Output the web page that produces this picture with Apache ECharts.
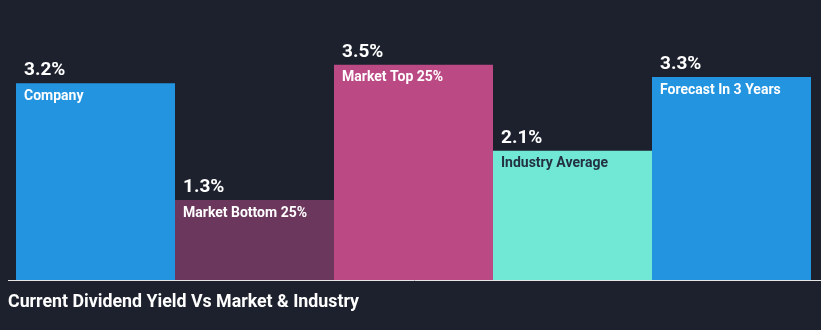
<!DOCTYPE html>
<html>
<head>
<meta charset="utf-8">
<script src="https://cdn.jsdelivr.net/npm/echarts@6/dist/echarts.min.js"></script>
<style>
  html, body { margin: 0; padding: 0; background: #1d212d; }
  #chart { width: 821px; height: 330px; }
</style>
</head>
<body>
<div id="chart"></div>
<script>
// Dividend yield comparison
const categories = ['Company', 'Market Bottom 25%', 'Market Top 25%', 'Industry Average', 'Forecast In 3 Years'];
const yieldValues = [3.2, 1.3, 3.5, 2.1, 3.3];
const chartTitle = 'Current Dividend Yield Vs Market & Industry';

const barColors = ['#2394df', '#6c375c', '#bb4a84', '#70e8d5', '#2394df'];
const nameColors = ['#ffffff', '#ffffff', '#ffffff', '#233240', '#ffffff'];

const chart = echarts.init(document.getElementById('chart'));

const seriesData = yieldValues.map((v, i) => ({
  value: v,
  itemStyle: { color: barColors[i] },
  label: {
    formatter: '{v|' + v.toFixed(1) + '%}\n{n|' + categories[i] + '}',
    rich: {
      v: { fontSize: 19, fontWeight: 'bold', color: '#ffffff', lineHeight: 28, fontFamily: 'Roboto' },
      n: { fontSize: 14, fontWeight: 'bold', color: nameColors[i], lineHeight: 24, fontFamily: 'Roboto' }
    }
  }
}));

chart.setOption({
  backgroundColor: '#1d212d',
  animation: false,
  grid: { left: 16, right: 10, top: 34, bottom: 50 },
  xAxis: {
    type: 'category',
    data: categories,
    axisLine: { show: false },
    axisTick: { show: false },
    axisLabel: { show: false }
  },
  yAxis: {
    type: 'value',
    min: 0,
    max: 4,
    show: false,
    splitLine: { show: false }
  },
  series: [{
    type: 'bar',
    barCategoryGap: 0,
    data: seriesData,
    label: {
      show: true,
      position: [8, -27],
      align: 'left',
      verticalAlign: 'top'
    }
  }],
  graphic: [
    {
      type: 'line',
      shape: { x1: 8, y1: 280.5, x2: 821, y2: 280.5 },
      style: { stroke: '#e6e6e6', lineWidth: 1 }
    },
    {
      type: 'text',
      left: 8,
      top: 294,
      style: {
        text: chartTitle,
        fill: '#ffffff',
        font: 'bold 17.8px Roboto'
      }
    }
  ]
});
</script>
</body>
</html>
